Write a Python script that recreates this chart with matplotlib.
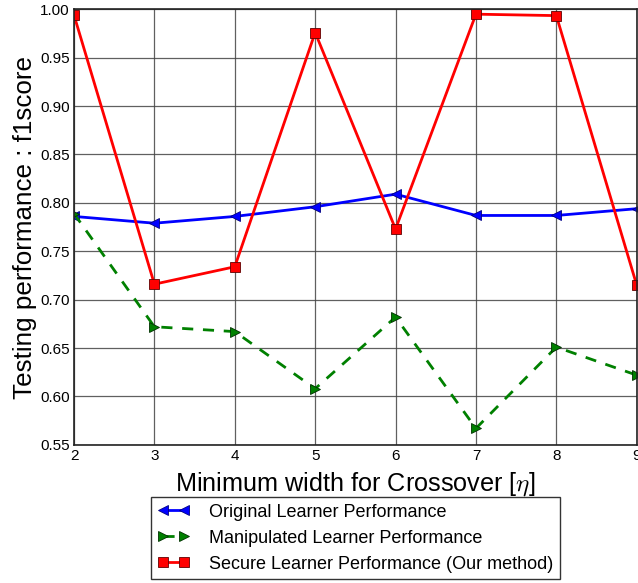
import matplotlib
matplotlib.use('Agg')
import matplotlib.pyplot as plt
import numpy as np

plt.rcParams['font.family'] = ['Liberation Sans', 'DejaVu Sans']
plt.rcParams['mathtext.fontset'] = 'cm'

# minimum crossover width
eta = [2, 3, 4, 5, 6, 7, 8, 9]

# f1 scores for each learner
original = [0.786, 0.779, 0.786, 0.796, 0.809, 0.787, 0.787, 0.794]
manipulated = [0.789, 0.672, 0.667, 0.608, 0.682, 0.567, 0.651, 0.622]
secure = [0.994, 0.716, 0.734, 0.976, 0.773, 0.995, 0.9935, 0.715]

yticks = [0.55, 0.60, 0.65, 0.70, 0.75, 0.80, 0.85, 0.90, 0.95, 1.00]

fig = plt.figure(figsize=(6.38, 5.83), dpi=100)
ax = fig.add_axes([0.116, 0.237, 0.882, 0.747])

ax.plot(eta, original, color='blue', lw=2, marker='<', ms=7,
        mec='#000080', mew=0.6, label='Original Learner Performance')
ax.plot(eta, manipulated, color='green', lw=2, ls='--', dashes=(4, 3.5),
        marker='>', ms=7, mec='#003000', mew=0.6,
        label='Manipulated Learner Performance')
ax.plot(eta, secure, color='red', lw=2, marker='s', ms=6.5,
        mec='#600000', mew=0.6,
        label='Secure Learner Performance (Our method)')

ax.set_xlim(2, 9)
ax.set_ylim(0.55, 1.00)
ax.set_yticks(yticks)
ax.set_yticklabels(['%.2f' % v for v in yticks])
ax.set_xticks(eta)
ax.tick_params(labelsize=11, length=0, pad=3)
ax.grid(True, color='#444444', lw=0.9, alpha=0.85)
ax.set_axisbelow(True)
for s in ax.spines.values():
    s.set_color('#222222')
    s.set_linewidth(1.2)

ax.set_xlabel(r'Minimum width for Crossover [$\eta$]', fontsize=18.2, labelpad=5)
ax.set_ylabel('Testing performance : f1score', fontsize=18.7, labelpad=2)

leg = ax.legend(loc='upper center', bbox_to_anchor=(0.5, -0.119), numpoints=2,
                fontsize=13, fancybox=False, handlelength=1.75,
                labelspacing=0.5, borderpad=0.38, handletextpad=1.1,
                borderaxespad=0)
leg.get_frame().set_edgecolor('black')
leg.get_frame().set_linewidth(1.0)

fig.savefig('out.png', dpi=100)
